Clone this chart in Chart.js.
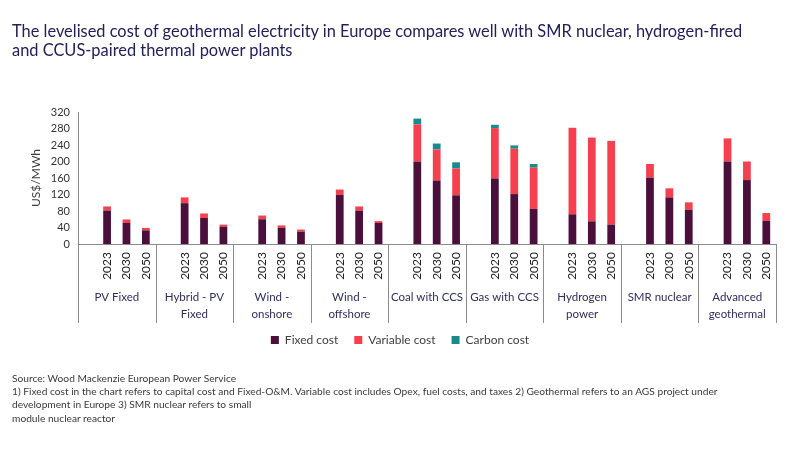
<!DOCTYPE html>
<html>
<head>
<meta charset="utf-8">
<script src="https://cdn.jsdelivr.net/npm/chart.js@4.4.1/dist/chart.umd.min.js"></script>
<style>
  body { margin: 0; background: #fff; width: 800px; height: 450px; overflow: hidden; position: relative; font-family: Lato, sans-serif; }
  #title { position: absolute; left: 12px; top: 22px; font-size: 16.4px; line-height: 18.5px; color: #22215a; white-space: nowrap; }
  #notes { position: absolute; left: 12px; top: 372px; font-size: 10.2px; line-height: 13.2px; color: #3a3a3a; white-space: nowrap; }
  #chart { position: absolute; left: 0; top: 0; }
</style>
</head>
<body>
<canvas id="chart" width="800" height="450"></canvas>
<div id="title">The levelised cost of geothermal electricity in Europe compares well with SMR nuclear, hydrogen-fired<br>and CCUS-paired thermal power plants</div>
<div id="notes">Source: Wood Mackenzie European Power Service<br>1) Fixed cost in the chart refers to capital cost and Fixed-O&amp;M. Variable cost includes Opex, fuel costs, and taxes 2) Geothermal refers to an AGS project under<br>development in Europe 3) SMR nuclear refers to small<br>module nuclear reactor</div>
<script>
const groups = ['PV Fixed', ['Hybrid - PV', 'Fixed'], ['Wind -', 'onshore'], ['Wind -', 'offshore'],
    'Coal with CCS', 'Gas with CCS', ['Hydrogen', 'power'], 'SMR nuclear', ['Advanced', 'geothermal']];
const years = ['2023', '2030', '2050'];

// US$/MWh, three years per technology
const fixedCost = [81, 51, 33, 99, 63, 42, 60, 39, 30, 119, 81, 51, 200, 154, 118,
    159, 121, 85, 72, 55, 47, 161, 113, 83, 200, 155, 56];
const variableCost = [10, 8.5, 6, 14, 11, 5, 9, 6, 5, 13, 10, 4.5, 90, 75, 65,
    122, 110, 100, 210, 203, 203, 33, 22, 18, 56, 45, 19];
const carbonCost = [0, 0, 0, 0, 0, 0, 0, 0, 0, 0, 0, 0, 14, 14.5, 15,
    8, 8, 9, 0, 0, 0, 0, 0, 0, 0, 0, 0];

const colors = {
    fixed: '#4b0f3b',
    variable: '#f5404f',
    carbon: '#1b8a8c',
    axis: '#8c8c8c'
};

// one empty slot before each group's three years
const labels = [];
groups.forEach(() => labels.push('', ...years));
function slots(values) {
    const out = [];
    for (let g = 0; g < groups.length; g++) {
        out.push(null, values[g * 3], values[g * 3 + 1], values[g * 3 + 2]);
    }
    return out;
}

const groupLabels = {
    id: 'groupLabels',
    afterDraw(chart) {
        const x = chart.scales.x;
        const ctx = chart.ctx;
        const bottom = chart.chartArea.bottom;
        const slotW = (x.right - x.left) / labels.length;
        ctx.save();
        ctx.strokeStyle = colors.axis;
        ctx.lineWidth = 1;
        ctx.font = '11.5px Lato';
        ctx.fillStyle = '#2f2f5e';
        ctx.textAlign = 'center';
        ctx.textBaseline = 'middle';
        for (let g = 0; g <= groups.length; g++) {
            const left = x.getPixelForValue(g * 4) - slotW / 2;
            ctx.beginPath();
            ctx.moveTo(Math.round(left) + 0.5, bottom);
            ctx.lineTo(Math.round(left) + 0.5, bottom + 79);
            ctx.stroke();
            if (g < groups.length) {
                const lines = [].concat(groups[g]);
                lines.forEach((t, i) => ctx.fillText(t, left + slotW * 2, bottom + 53 + i * 17));
            }
        }
        ctx.restore();
    }
};

new Chart(document.getElementById('chart'), {
    type: 'bar',
    data: {
        labels: labels,
        datasets: [
            { label: 'Fixed cost', data: slots(fixedCost), backgroundColor: colors.fixed },
            { label: 'Variable cost', data: slots(variableCost), backgroundColor: colors.variable },
            { label: 'Carbon cost', data: slots(carbonCost), backgroundColor: colors.carbon }
        ]
    },
    options: {
        responsive: false,
        animation: false,
        categoryPercentage: 1,
        barPercentage: 0.4,
        layout: { padding: { top: 112, right: 24, bottom: 94, left: 24 } },
        plugins: {
            legend: {
                position: 'bottom',
                labels: { boxWidth: 8, boxHeight: 8, padding: 16, color: '#404040', font: { family: 'Lato', size: 12 } }
            },
            tooltip: { enabled: false }
        },
        scales: {
            x: {
                stacked: true,
                grid: { display: false, drawTicks: false },
                border: { display: true, color: colors.axis },
                ticks: {
                    autoSkip: false, minRotation: 90, maxRotation: 90, padding: 8,
                    color: '#222', font: { family: 'Lato', size: 12 }
                },
                afterFit(scale) { scale.height = 74; }
            },
            y: {
                stacked: true,
                min: 0,
                max: 320,
                grid: { display: false, drawTicks: false },
                border: { display: true, color: colors.axis },
                ticks: { stepSize: 40, autoSkip: false, padding: 8, color: '#333', font: { family: 'Lato', size: 11 } },
                title: { display: true, text: 'US$/MWh', color: '#404040', font: { family: 'Lato', size: 12 }, padding: { top: 5 } },
                afterFit(scale) { scale.width = 54; }
            }
        }
    },
    plugins: [groupLabels]
});
</script>
</body>
</html>
